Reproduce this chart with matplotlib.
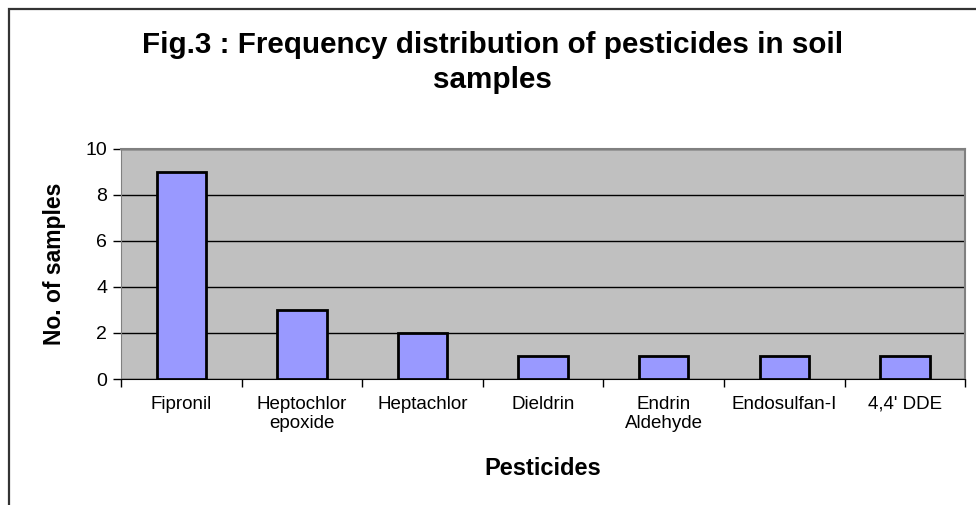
import matplotlib.pyplot as plt
import numpy as np
from matplotlib.patches import Rectangle

plt.rcParams['font.family'] = ['Liberation Sans', 'DejaVu Sans']

pesticides = ["Fipronil", "Heptochlor\nepoxide", "Heptachlor", "Dieldrin",
              "Endrin\nAldehyde", "Endosulfan-I", "4,4' DDE"]
n_samples = [9, 3, 2, 1, 1, 1, 1]
y_ticks = [0, 2, 4, 6, 8, 10]

fig = plt.figure(figsize=(9.76, 5.05), dpi=100)
# moldura externa do gráfico (aberta embaixo)
fig.patches.append(Rectangle((0.009, -0.1), 1.1, 1.083, transform=fig.transFigure,
                             fill=False, edgecolor="#333333", linewidth=1.6))

ax = fig.add_axes([0.124, 0.2495, 0.865, 0.4555])
ax.set_facecolor("#C0C0C0")

x = np.arange(len(pesticides))
ax.bar(x, n_samples, width=0.41, color="#9999FF", edgecolor="black", linewidth=2, zorder=3)

ax.set_xlim(-0.5, len(pesticides) - 0.5)
ax.set_ylim(0, 10)
ax.set_yticks(y_ticks)
ax.yaxis.grid(True, color="black", linewidth=1, zorder=1)
ax.set_axisbelow(True)

ax.set_xticks(x)
ax.set_xticklabels(pesticides, fontsize=13.5, linespacing=1.2)
ax.tick_params(axis="x", length=0, pad=12)
ax.set_xticks(np.arange(-0.5, len(pesticides)), minor=True)
ax.tick_params(axis="x", which="minor", length=6, width=1, color="black")
ax.tick_params(axis="y", labelsize=14, length=6, width=1, pad=4)

for s in ["top", "right"]:
    ax.spines[s].set_color("#808080")
    ax.spines[s].set_linewidth(1.5)
ax.spines["left"].set_color("#808080")
ax.spines["bottom"].set_color("black")

ax.set_ylabel("No. of samples", fontsize=16.5, fontweight="bold", labelpad=14)
ax.set_xlabel("Pesticides", fontsize=17, fontweight="bold", labelpad=18)
fig.text(0.505, 0.876, "Fig.3 : Frequency distribution of pesticides in soil\nsamples",
         ha="center", va="center", fontsize=21.3, fontweight="bold", linespacing=1.3)

fig.savefig("out.png", dpi=100)
